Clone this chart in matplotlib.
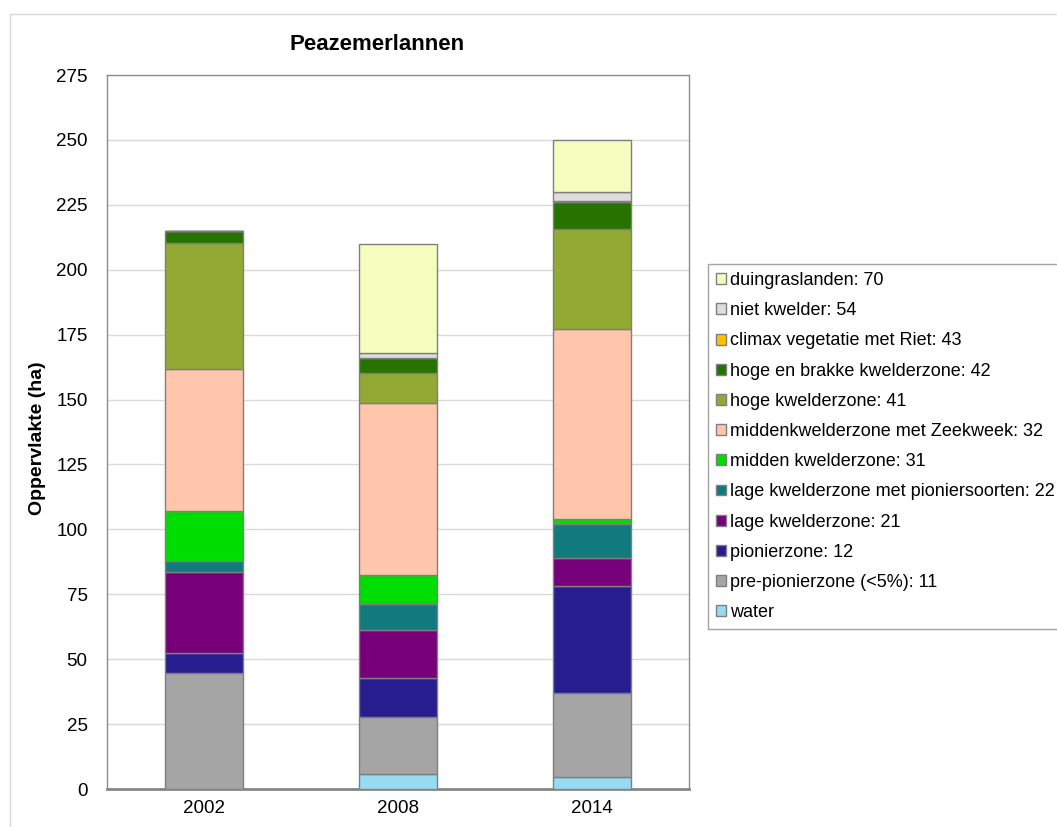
import matplotlib.pyplot as plt
import numpy as np
from matplotlib.patches import Rectangle

plt.rcParams['font.family'] = ['Liberation Sans', 'DejaVu Sans']

years = ['2002', '2008', '2014']

# stapelvolgorde van onder naar boven
labels = ['water',
          'pre-pionierzone (<5%): 11',
          'pionierzone: 12',
          'lage kwelderzone: 21',
          'lage kwelderzone met pioniersoorten: 22',
          'midden kwelderzone: 31',
          'middenkwelderzone met Zeekweek: 32',
          'hoge kwelderzone: 41',
          'hoge en brakke kwelderzone: 42',
          'climax vegetatie met Riet: 43',
          'niet kwelder: 54',
          'duingraslanden: 70']

colors = ['#97DBF2', '#A5A5A5', '#271D8E', '#77007A', '#117A7E', '#00DD00',
          '#FFC6AC', '#92AA33', '#267300', '#FFC000', '#DDDDDD', '#F4FDBE']

# oppervlakte (ha) per jaar: 2002, 2008, 2014
water = [0.0, 5.6, 4.8]
pre_pionier = [44.6, 22.1, 32.0]
pionier = [7.6, 14.9, 41.2]
lage = [31.3, 18.5, 11.1]
lage_pionier = [4.3, 10.0, 12.9]
midden = [19.3, 11.4, 1.9]
midden_zeekweek = [54.6, 66.0, 73.2]
hoge = [48.6, 11.7, 38.7]
hoge_brak = [4.6, 5.9, 10.2]
climax = [0.0, 0.0, 0.4]
niet_kwelder = [0.0, 1.7, 3.4]
duingras = [0.0, 42.0, 20.2]

series = [water, pre_pionier, pionier, lage, lage_pionier, midden,
          midden_zeekweek, hoge, hoge_brak, climax, niet_kwelder, duingras]

fig = plt.figure(figsize=(10.57, 8.27), dpi=100)
ax = fig.add_axes([107 / 1057, 1 - 789 / 827, 582 / 1057, 714 / 827])

# rand van het grafiekgebied
fig.patches.append(Rectangle((9.5 / 1057, -0.1), 1.2, 1 - 14 / 827 + 0.1,
                             transform=fig.transFigure, fill=False,
                             edgecolor='#D9D9D9', linewidth=1))

x = np.arange(len(years))
bottom = np.zeros(len(years))
handles = []
for vals, lab, col in zip(series, labels, colors):
    vals = np.array(vals)
    b = ax.bar(x, vals, 0.4, bottom=bottom, color=col, edgecolor='#7F7F7F',
               linewidth=1, label=lab, zorder=3)
    handles.append(b)
    bottom += vals

ax.set_xlim(-0.5, 2.5)
ax.set_ylim(0, 275)
ax.set_yticks(np.arange(0, 276, 25))
ax.set_xticks(x)
ax.set_xticklabels(years)
ax.tick_params(axis='y', length=0, pad=14, labelsize=13.5)
ax.tick_params(axis='x', length=0, pad=8, labelsize=13.5)
ax.yaxis.grid(True, color='#D9D9D9', linewidth=1, zorder=0)
ax.set_axisbelow(True)
for s in ['left', 'top', 'right']:
    ax.spines[s].set_color('#8C8C8C')
    ax.spines[s].set_linewidth(1)
ax.spines['bottom'].set_color('#868686')
ax.spines['bottom'].set_linewidth(2)

fig.text(377 / 1057, 1 - 45 / 827, 'Peazemerlannen', ha='center', va='center',
         fontsize=16, fontweight='bold')
fig.text(38 / 1057, 1 - 438 / 827, 'Oppervlakte (ha)', ha='center', va='center',
         rotation=90, fontsize=14, fontweight='bold')

leg = fig.legend(handles[::-1], labels[::-1], loc='upper left',
                 bbox_to_anchor=(708 / 1057, 1 - 264 / 827), borderaxespad=0,
                 fontsize=13, frameon=True, fancybox=False, handlelength=0.55,
                 handleheight=0.55, handletextpad=0.2, labelspacing=0.73,
                 borderpad=0.45)
leg.get_frame().set_edgecolor('#8C8C8C')
leg.get_frame().set_linewidth(1)

fig.savefig('out.png', dpi=100)
